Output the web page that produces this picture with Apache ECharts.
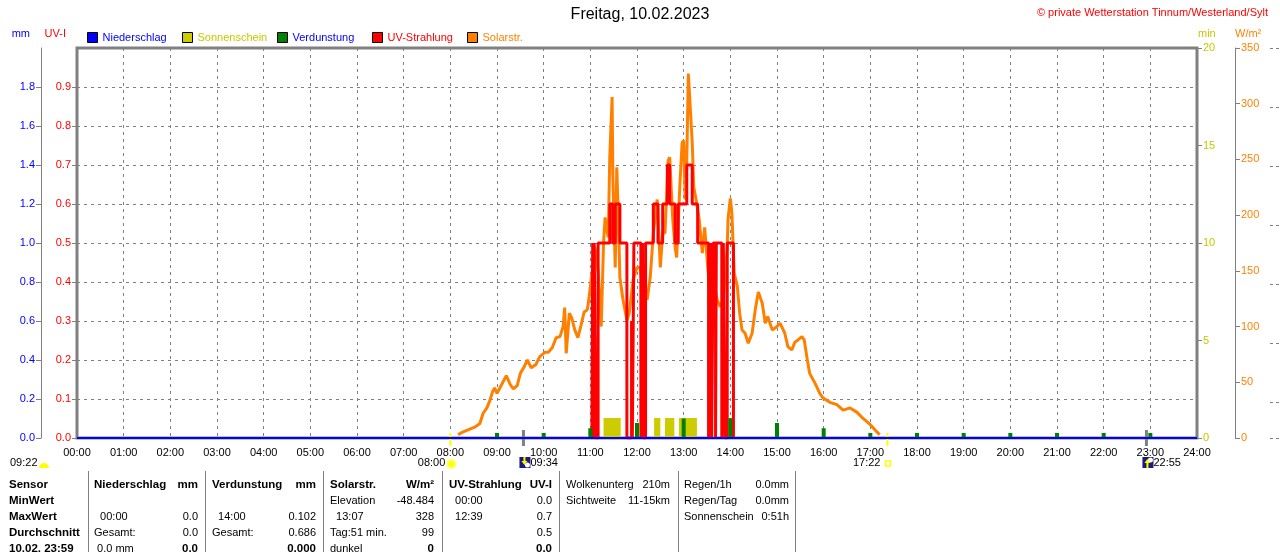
<!doctype html>
<html lang="de">
    <head>
        <meta charset="UTF-8" />
        <title>Wetterstation Tinnum - Freitag, 10.02.2023</title>
        <script src="https://cdn.jsdelivr.net/npm/echarts@6/dist/echarts.min.js"></script>
        <style>
            html, body { margin: 0; padding: 0; background: #fff; }
        </style>
    </head>
    <body>
        <div id="main" style="width: 1280px; height: 552px"></div>

        <script>
            // --- values ---
            const hourLabels = ["00:00","01:00","02:00","03:00","04:00","05:00","06:00","07:00","08:00","09:00","10:00","11:00","12:00",
                "13:00","14:00","15:00","16:00","17:00","18:00","19:00","20:00","21:00","22:00","23:00","24:00"];

            // Solarstrahlung W/m²
            const solarTimes = ["08:10","08:15","08:32","08:38","08:42","08:47","08:51","08:54","08:57","09:00","09:06","09:12","09:17",
                "09:21","09:26","09:30","09:35","09:39","09:44","09:50","09:55","10:02","10:06","10:11","10:16","10:21","10:25","10:27",
                "10:29","10:33","10:36","10:40","10:44","10:48","10:52","10:56","10:58","11:01","11:03","11:06","11:10","11:14","11:17",
                "11:19","11:23","11:25","11:28","11:29","11:32","11:34","11:36","11:38","11:42","11:47","11:50","11:55","12:00","12:04",
                "12:08","12:13","12:17","12:21","12:26","12:30","12:33","12:36","12:40","12:42","12:46","12:49","12:51","12:55","12:58",
                "13:00","13:02","13:04","13:06","13:08","13:11","13:13","13:16","13:20","13:24","13:27","13:31","13:34","13:38","13:43",
                "13:47","13:51","13:56","13:57","14:00","14:02","14:05","14:09","14:12","14:15","14:19","14:23","14:28","14:32","14:36",
                "14:41","14:45","14:48","14:54","15:00","15:04","15:10","15:14","15:19","15:23","15:27","15:32","15:35","15:39","15:42",
                "15:49","15:55","15:59","16:08","16:17","16:25","16:34","16:43","16:50","17:00","17:09","17:12"];
            const solarValues = [3,5,10,13,22,27,34,41,45,40,48,56,48,
                44,47,58,64,70,63,66,73,77,77,81,90,91,100,117,
                76,112,108,97,90,101,113,115,124,142,153,171,150,100,175,
                198,180,252,306,234,153,243,198,144,124,106,112,142,153,153,
                130,124,144,184,214,153,184,184,249,252,196,171,162,225,265,
                267,214,249,327,328,265,225,214,196,166,189,153,130,142,124,
                118,124,171,196,215,202,148,136,112,97,94,85,94,115,131,
                121,103,109,97,100,103,94,82,79,86,88,91,88,70,58,
                49,40,36,32,30,25,27,23,18,12,5,3];

            // UV-Strahlung UV-I (value holds from its time to the next)
            const uvTimes = ["11:02","11:03","11:04","11:05","11:07","11:10","11:25","11:29","11:32","11:38","11:47","11:53","11:54",
                "11:56","12:05","12:07","12:08","12:11","12:21","12:27","12:33","12:39","12:42","12:49","12:53","13:04","13:11","13:18",
                "13:32","13:33","13:34","13:35","13:36","13:38","13:41","13:42","13:49","13:51","13:53","13:56","14:04"];
            const uvValues = [0,0.5,0,0.5,0,0.5,0.6,0.5,0.6,0.5,0,0.3,0,
                0.5,0,0.5,0,0.5,0.6,0.5,0.6,0.7,0.6,0.5,0.6,0.7,0.6,0.5,
                0,0.5,0,0.5,0,0.5,0,0.5,0,0.5,0,0.5,0];

            // Sonnenschein min
            const sunStart = ["11:17","12:22","12:36","12:54"];
            const sunEnd = ["11:39","12:30","12:48","13:17"];
            const sunValues = [1,1,1,1];

            // Verdunstung mm
            const evapTimes = ["09:00","10:00","11:00","12:00","13:00","14:00","15:00","16:00","17:00","18:00","19:00","20:00","21:00","22:00","23:00"];
            const evapValues = [0.026,0.026,0.05,0.077,0.1,0.102,0.077,0.05,0.026,0.026,0.026,0.026,0.026,0.026,0.026];

            // Niederschlag mm
            const rainTimes = ["00:00","24:00"];
            const rainValues = [0,0];

            // Sonne / Mond
            const dayLength = "09:22";
            const sunrise = "08:00";
            const sunset = "17:22";
            const moonrise = "09:34";
            const moonset = "22:55";

            // table below the chart
            const rowHeads = ["Sensor","MinWert","MaxWert","Durchschnitt","10.02. 23:59"];
            const tableCols = [
                [["Niederschlag","mm"],["",""],["  00:00","0.0"],["Gesamt:","0.0"],[" 0.0 mm","0.0"]],
                [["Verdunstung","mm"],["",""],["  14:00","0.102"],["Gesamt:","0.686"],["","0.000"]],
                [["Solarstr.","W/m²"],["Elevation","-48.484"],["  13:07","328"],["Tag:51 min.","99"],["dunkel","0"]],
                [["UV-Strahlung","UV-I"],["  00:00","0.0"],["  12:39","0.7"],["","0.5"],["","0.0"]],
                [["Wolkenunterg","210m"],["Sichtweite","11-15km"]],
                [["Regen/1h","0.0mm"],["Regen/Tag","0.0mm"],["Sonnenschein","0:51h"]]
            ];

            const t = (s) => {
                const p = s.split(":").map(Number);
                return p[0] * 60 + p[1];
            };

            const FONT = 'Arial, "Liberation Sans", sans-serif';
            const FS = 11;
            const GRID = "#808080";
            const dashed = { color: GRID, type: [3, 4], width: 1 };

            const sunData = [];
            sunStart.forEach((s, i) => {
                sunData.push([t(s), sunValues[i]], [t(sunEnd[i]), sunValues[i]], [t(sunEnd[i]), null]);
            });

            const myChart = echarts.init(document.getElementById("main"));

            const legendNames = ["Niederschlag","Sonnenschein","Verdunstung","UV-Strahlung","Solarstr."];
            const legendText = ["#0000ff","#c8c800","#0000ff","#ff0000","#ff8000"];

            const options = {
                animation: false,
                textStyle: { fontFamily: FONT },
                title: [
                    { text: "Freitag, 10.02.2023", left: "center", top: 7, padding: 0,
                      textStyle: { fontSize: 16, fontWeight: "normal", color: "#000", fontFamily: FONT } },
                    { text: "© private Wetterstation Tinnum/Westerland/Sylt", right: 12, top: 7, padding: 0,
                      textStyle: { fontSize: 11, fontWeight: "normal", color: "#ff0000", fontFamily: FONT } }
                ],
                legend: legendNames.map((n, i) => ({
                    data: [n],
                    left: 87 + i * 95,
                    top: 32,
                    padding: 0,
                    icon: "rect",
                    itemWidth: 10,
                    itemHeight: 10,
                    selectedMode: false,
                    itemStyle: { borderColor: "#000", borderWidth: 1 },
                    textStyle: { color: legendText[i], fontSize: FS, fontFamily: FONT }
                })),
                grid: { left: 77, right: 83, top: 48, bottom: 114, show: true, borderColor: GRID, borderWidth: 3 },
                xAxis: {
                    type: "value", min: 0, max: 1440, interval: 60,
                    axisLine: { show: false }, axisTick: { show: false },
                    axisLabel: { color: "#000", fontSize: FS, margin: 9, formatter: (v) => hourLabels[v / 60] },
                    splitLine: { show: true, lineStyle: dashed }
                },
                yAxis: [
                    {   // UV-I
                        type: "value", position: "left", min: 0, max: 1, interval: 0.1,
                        name: "UV-I", nameLocation: "end", nameGap: 9,
                        nameTextStyle: { color: "#ff0000", fontSize: FS, align: "right", padding: [0, 11, 0, 0] },
                        axisLine: { show: false },
                        axisTick: { show: true, length: 5, lineStyle: { color: GRID } },
                        axisLabel: { color: "#ff0000", fontSize: FS, margin: 6, showMaxLabel: false, formatter: (v) => v.toFixed(1) },
                        splitLine: { show: true, lineStyle: dashed }
                    },
                    {   // mm
                        type: "value", position: "left", offset: 36, min: 0, max: 2, interval: 0.2,
                        name: "mm", nameLocation: "end", nameGap: 9,
                        nameTextStyle: { color: "#0000ff", fontSize: FS, align: "right", padding: [0, 11, 0, 0] },
                        axisLine: { show: true, lineStyle: { color: GRID, width: 1 } },
                        axisTick: { show: true, length: 5, lineStyle: { color: GRID } },
                        axisLabel: { color: "#0000ff", fontSize: FS, margin: 6, showMaxLabel: false, formatter: (v) => v.toFixed(1) },
                        splitLine: { show: false }
                    },
                    {   // min
                        type: "value", position: "right", min: 0, max: 20, interval: 5,
                        name: "min", nameLocation: "end", nameGap: 9,
                        nameTextStyle: { color: "#c8c800", fontSize: FS, align: "left", padding: [0, 0, 0, 1] },
                        axisLine: { show: false },
                        axisTick: { show: true, length: 5, lineStyle: { color: GRID } },
                        axisLabel: { color: "#c8c800", fontSize: FS, margin: 6 },
                        splitLine: { show: false }
                    },
                    {   // W/m²
                        type: "value", position: "right", offset: 38, min: 0, max: 350, interval: 50,
                        name: "W/m²", nameLocation: "end", nameGap: 9,
                        nameTextStyle: { color: "#ff8000", fontSize: FS, align: "left" },
                        axisLine: { show: true, lineStyle: { color: GRID, width: 1 } },
                        axisTick: { show: true, length: 5, lineStyle: { color: GRID } },
                        axisLabel: { color: "#ff8000", fontSize: FS, margin: 6 },
                        splitLine: { show: false }
                    },
                    {   // cut-off axis at the right edge
                        type: "value", position: "right", offset: 73, min: 0, max: 6.6, interval: 1, inverse: true,
                        axisLine: { show: false },
                        axisTick: { show: true, length: 10, lineStyle: { color: GRID, type: [3, 3] } },
                        axisLabel: { show: false },
                        splitLine: { show: false }
                    }
                ],
                series: [
                    {
                        name: "Solarstr.", type: "line", yAxisIndex: 3, color: "#ff8000",
                        showSymbol: false, symbol: "none",
                        lineStyle: { width: 3, color: "#ff8000" },
                        data: solarTimes.map((s, i) => [t(s), solarValues[i]])
                    },
                    {
                        name: "Sonnenschein", type: "line", yAxisIndex: 2, color: "#cccc00",
                        showSymbol: false, symbol: "none", connectNulls: false,
                        lineStyle: { width: 1, color: "#cccc00" },
                        areaStyle: { color: "#cccc00", opacity: 1 },
                        data: sunData
                    },
                    {
                        name: "UV-Strahlung", type: "line", yAxisIndex: 0, color: "#ff0000",
                        step: "end", showSymbol: false, symbol: "none",
                        lineStyle: { width: 3, color: "#ff0000" },
                        data: uvTimes.map((s, i) => [t(s), uvValues[i]])
                    },
                    {
                        name: "Verdunstung", type: "bar", yAxisIndex: 1, color: "#008000",
                        barWidth: 4, z: 4,
                        data: evapTimes.map((s, i) => [t(s), evapValues[i]])
                    },
                    {
                        name: "Niederschlag", type: "line", yAxisIndex: 1, color: "#0000ff",
                        showSymbol: false, symbol: "none", z: 5,
                        lineStyle: { width: 2, color: "#0000ff" },
                        data: rainTimes.map((s, i) => [t(s), rainValues[i]])
                    }
                ]
            };

            myChart.setOption(options);

            // --- sun / moon marks and the table, drawn after the axes exist ---
            const px = (s) => myChart.convertToPixel({ xAxisIndex: 0 }, t(s));
            const g = [];
            const txt = (x, y, s, align, bold, color) => g.push({
                type: "text", x: x, y: y, silent: true,
                style: { text: s, align: align || "left", verticalAlign: "middle",
                         font: bold ? "bold 11.5px " + FONT : FS + "px " + FONT, fill: color || "#000" }
            });

            // sunrise / sunset ticks on the time axis
            [sunrise, sunset].forEach((s) => g.push({
                type: "line", shape: { x1: px(s), y1: 433, x2: px(s), y2: 446 },
                style: { stroke: "#ffff00", lineWidth: 2 }
            }));
            [moonrise, moonset].forEach((s) => g.push({
                type: "line", shape: { x1: px(s), y1: 430, x2: px(s), y2: 446 },
                style: { stroke: GRID, lineWidth: 3 }
            }));

            // day length with half sun
            txt(10, 463, dayLength);
            g.push({ type: "sector", shape: { cx: 44, cy: 468, r: 5, startAngle: Math.PI, endAngle: 2 * Math.PI },
                     style: { fill: "#ffff00" } });

            // sunrise
            txt(px(sunrise) - 5, 463, sunrise, "right");
            g.push({ type: "circle", shape: { cx: px(sunrise) + 1, cy: 464, r: 4 }, style: { fill: "#ffff00", stroke: "#ffff66", lineWidth: 2 } });

            // sunset
            txt(px(sunset) - 7, 463, sunset, "right");
            g.push({ type: "rect", shape: { x: px(sunset) - 2, y: 461, width: 5, height: 5 },
                     style: { fill: "none", stroke: "#ffff00", lineWidth: 1.5 } });

            // moon icons
            const moonIcon = (x, up) => {
                g.push({ type: "rect", shape: { x: x, y: 457, width: 11, height: 11 }, style: { fill: "#1a1a80" } });
                g.push({ type: "circle", shape: { cx: x + 8, cy: up ? 460 : 465, r: 2.5 }, style: { fill: "#ffffff" } });
                g.push({ type: "polygon", shape: { points: up
                    ? [[x + 5, 459], [x + 2, 463], [x + 4, 463], [x + 4, 468], [x + 6, 468], [x + 6, 463], [x + 8, 463]]
                    : [[x + 5, 465], [x + 2, 461], [x + 4, 461], [x + 4, 457], [x + 6, 457], [x + 6, 461], [x + 8, 461]] },
                    style: { fill: "#ffff00" } });
            };
            moonIcon(px(moonrise) - 4, false);
            txt(px(moonrise) + 7, 463, moonrise);
            moonIcon(px(moonset) - 4, true);
            txt(px(moonset) + 7, 463, moonset);

            // table
            const rowY = [485, 501, 517, 533, 549];
            const colLeft = [94, 212, 330, 449, 566, 684];
            const colRight = [198, 316, 434, 552, 670, 789];
            const sepX = [88, 205, 323, 442, 559, 678, 795];

            rowHeads.forEach((s, r) => txt(9, rowY[r], s, "left", true));
            tableCols.forEach((col, c) => {
                const boldHead = c < 4;
                col.forEach((cell, r) => {
                    const bold = boldHead && (r === 0 || r === 4);
                    if (cell[0]) txt(colLeft[c], rowY[r], cell[0], "left", boldHead && r === 0);
                    if (cell[1]) txt(colRight[c], rowY[r], cell[1], "right", bold);
                });
            });
            sepX.forEach((x) => g.push({
                type: "line", shape: { x1: x + 0.5, y1: 471, x2: x + 0.5, y2: 552 },
                style: { stroke: GRID, lineWidth: 1 }
            }));

            myChart.setOption({ graphic: g });
        </script>
    </body>
</html>
